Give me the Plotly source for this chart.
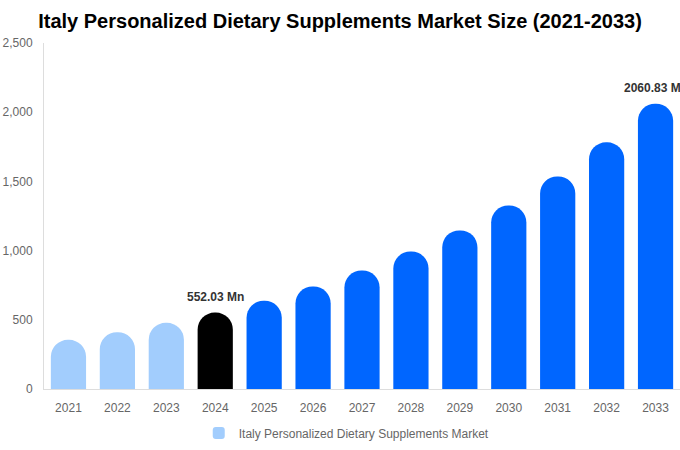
import plotly.graph_objects as go

# data
years = ["2021", "2022", "2023", "2024", "2025", "2026", "2027",
         "2028", "2029", "2030", "2031", "2032", "2033"]
market_size = [355, 410, 478, 552.03, 638, 740, 856,
               993, 1146, 1326, 1536, 1782, 2060.83]
labelled = {"2024": "552.03 Mn", "2033": "2060.83 Mn"}

# history light blue, base year black, forecast blue
bar_colors = ["#a2cdfd"] * 3 + ["#000000"] + ["#0066ff"] * 9

fig = go.Figure()
fig.add_bar(
    x=years, y=market_size,
    marker=dict(color=bar_colors, line_width=0),
    name="Italy Personalized Dietary Supplements Market",
    hoverinfo="x+y",
)

# value labels; x given as category index so "2024" isn't read as a number
for yr, txt in labelled.items():
    i = years.index(yr)
    fig.add_annotation(
        x=i, y=market_size[i], text="<b>" + txt + "</b>",
        showarrow=False, yanchor="bottom", yshift=7,
        font=dict(size=12, color="#333333"),
    )

fig.update_xaxes(
    type="category", range=[-0.5, len(years) - 0.5],
    showline=True, linecolor="#dddddd", linewidth=1,
    tickfont=dict(size=12, color="#666666"),
    ticklabelstandoff=8,
    showgrid=False,
)
fig.update_yaxes(
    range=[0, 2500], dtick=500, tickformat=",",
    showline=True, linecolor="#dddddd", linewidth=1,
    showgrid=False, zeroline=False,
    tickfont=dict(size=12, color="#666666"),
    ticklabelstandoff=8,
)

fig.update_layout(
    width=680, height=450,
    font_family="Liberation Sans",
    plot_bgcolor="white", paper_bgcolor="white",
    margin=dict(l=44, r=0, t=43, b=61, autoexpand=False),
    bargap=0.28, barcornerradius="50%",
    title=dict(text="<b>Italy Personalized Dietary Supplements Market Size (2021-2033)</b>",
               x=0.5, xanchor="center", y=0.953, yanchor="middle",
               font=dict(size=20, color="#000000")),
    showlegend=True,
    legend=dict(orientation="h", x=0.476, xanchor="center", y=-0.127, yanchor="middle",
                font=dict(size=12, color="#666666")),
)

fig.write_html("out.html", config={"displayModeBar": False},
               post_script="document.body.style.margin='0';")
